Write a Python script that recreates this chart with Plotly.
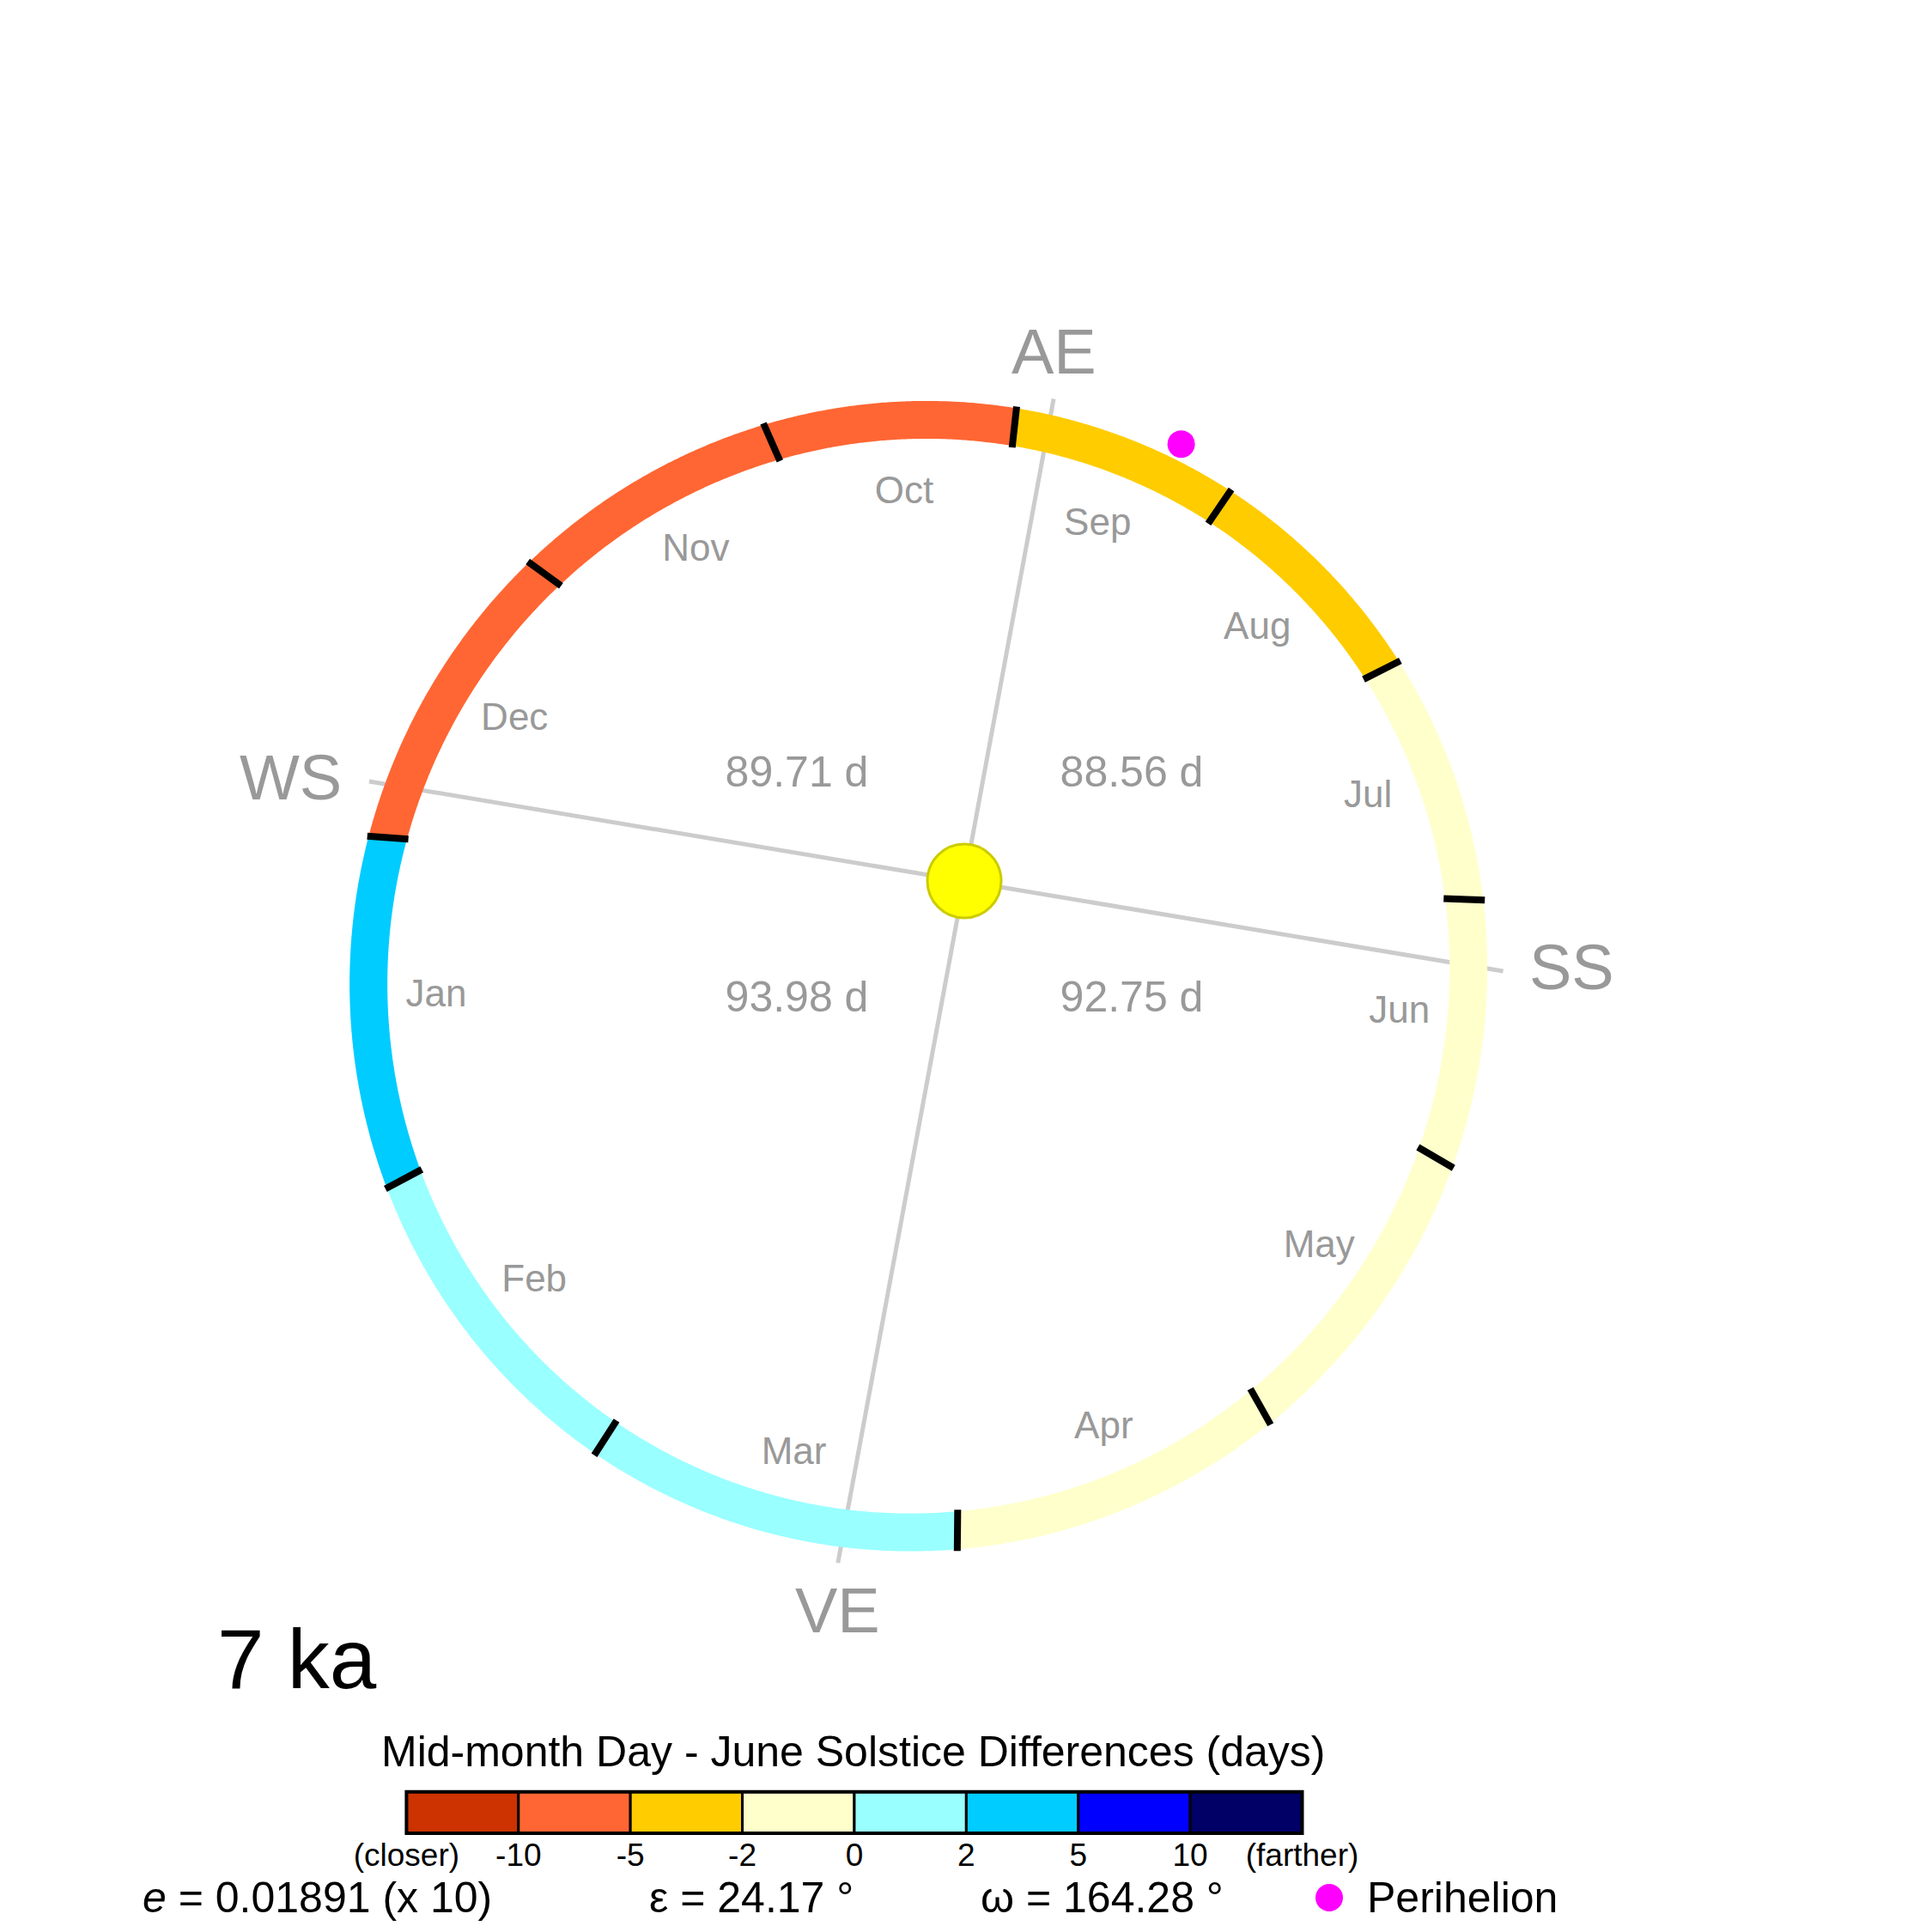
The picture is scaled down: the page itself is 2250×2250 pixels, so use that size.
import numpy as np
import plotly.graph_objects as go

# ---------------- data ----------------
AGE_LABEL = "7 ka"
ECC = 0.01891           # eccentricity
ECC_SCALE = 10          # exaggeration used for drawing the orbit
OBLIQUITY = 24.17       # degrees
OMEGA = 164.28          # longitude of perihelion (deg, from VE)

MONTHS = ["Jan", "Feb", "Mar", "Apr", "May", "Jun",
          "Jul", "Aug", "Sep", "Oct", "Nov", "Dec"]
# drawn longitude (deg from VE) of the first day of each month
MONTH_START_LON = [275.7, 308.0, 337.2, 9.4, 39.4, 69.6,
                   97.9, 126.8, 155.7, 183.7, 213.7, 243.8]
# mid-month day minus June-solstice-calendar differences (days, estimated from colours)
MONTH_DIFF_DAYS = [3.6, 1.7, 0.6, -0.4, -0.6, -0.2,
                   -1.2, -2.6, -4.3, -5.9, -7.2, -7.8]

SEASON_LABELS = ["VE", "SS", "AE", "WS"]
# drawn longitude of the equinox / solstice points
SEASON_LON = [-0.5, 90.5, 179.5, 270.5]
# length (days) of the season starting at each cardinal point
SEASON_DAYS = [92.75, 88.56, 89.71, 93.98]
# drawn longitude of the perihelion marker
PERI_MARK_LON = 163.6

BIN_EDGES = [-10, -5, -2, 0, 2, 5, 10]
BIN_COLORS = ["#CC3300", "#FF6633", "#FFCC00", "#FFFFCC",
              "#99FFFF", "#00CCFF", "#0000FF", "#000066"]
CB_TICKTEXT = ["(closer)", "-10", "-5", "-2", "0", "2", "5", "10", "(farther)"]
CB_TITLE = "Mid-month Day - June Solstice Differences (days)"

# ---------------- layout / style constants ----------------
W = H = 2250
PX = 650.0                 # pixels per orbit semi-major axis
SUN_PX = (1123, 1026)      # sun position on the page (px from top-left)
ROT = -100.0               # screen direction (deg) of longitude 0 seen from the sun
GRAY = "#999999"
LINE_GRAY = "#CCCCCC"
FONT = "Liberation Sans, Arial, sans-serif"
RING_W = 44
TEXT_DY = -6 / PX          # small vertical correction for text traces
e_draw = ECC * ECC_SCALE


def radius(lon):
    nu = np.radians(np.asarray(lon, dtype=float) - OMEGA)
    return (1 - e_draw ** 2) / (1 + e_draw * np.cos(nu))


def polar(lon, r):
    ang = np.radians(ROT + np.asarray(lon, dtype=float))
    return r * np.cos(ang), r * np.sin(ang)


fig = go.Figure()

# --- equinox / solstice lines (under everything) ---
END_OFF = 41 / PX
ends = {}
for lab, lon in zip(SEASON_LABELS, SEASON_LON):
    ends[lab] = polar(lon, radius(lon) + END_OFF)
for a, b in [("VE", "AE"), ("WS", "SS")]:
    fig.add_trace(go.Scatter(
        x=[ends[a][0], 0, ends[b][0]], y=[ends[a][1], 0, ends[b][1]],
        mode="lines", line=dict(color=LINE_GRAY, width=5),
        hoverinfo="skip", showlegend=False))

# --- coloured month ring ---
bins = np.digitize(MONTH_DIFF_DAYS, BIN_EDGES)
for i, m in enumerate(MONTHS):
    s = MONTH_START_LON[i]
    e = MONTH_START_LON[(i + 1) % 12]
    if e <= s:
        e += 360
    lon = np.linspace(s, e, 120)
    x, y = polar(lon, radius(lon))
    fig.add_trace(go.Scatter(
        x=x, y=y, mode="lines",
        line=dict(color=BIN_COLORS[bins[i]], width=RING_W, simplify=False),
        hoverinfo="skip", showlegend=False))

# --- month boundary ticks ---
TICK_HALF = 24 / PX
tx, ty = [], []
for s in MONTH_START_LON:
    r = radius(s)
    x0, y0 = polar(s, r - TICK_HALF)
    x1, y1 = polar(s, r + TICK_HALF)
    tx += [x0, x1, None]
    ty += [y0, y1, None]
fig.add_trace(go.Scatter(x=tx, y=ty, mode="lines",
                         line=dict(color="black", width=8),
                         hoverinfo="skip", showlegend=False))

# --- month labels ---
mid = []
for i in range(12):
    s = MONTH_START_LON[i]
    e = MONTH_START_LON[(i + 1) % 12]
    if e <= s:
        e += 360
    mid.append((s + e) / 2)
mid = np.array(mid)
mx, my = polar(mid, radius(mid) - 80 / PX)
fig.add_trace(go.Scatter(x=mx, y=my + TEXT_DY, mode="text", text=MONTHS,
                         textposition="middle center",
                         textfont=dict(size=44, color=GRAY, family=FONT),
                         hoverinfo="skip", showlegend=False))

# --- season length labels ---
sx, sy, st = [], [], []
for lon, d in zip(SEASON_LON, SEASON_DAYS):
    ang = np.radians(ROT + lon + 45)
    sx.append(0.30 * np.sign(np.cos(ang)))
    sy.append((0.197 if np.sin(ang) > 0 else -0.205) + TEXT_DY)
    st.append(f"{d:.2f} d")
fig.add_trace(go.Scatter(x=sx, y=sy, mode="text", text=st,
                         textposition="middle center",
                         textfont=dict(size=50, color=GRAY, family=FONT),
                         hoverinfo="skip", showlegend=False))

# --- sun ---
fig.add_trace(go.Scatter(x=[0], y=[0], mode="markers",
                         marker=dict(size=86, color="#FFFF00",
                                     line=dict(color="#CCCC00", width=3)),
                         hoverinfo="skip", showlegend=False))

# --- perihelion marker ---
px_, py_ = polar(PERI_MARK_LON, radius(PERI_MARK_LON) + 41 / PX)
fig.add_trace(go.Scatter(x=[px_], y=[py_], mode="markers",
                         marker=dict(size=32, color="#FF00FF"),
                         hoverinfo="skip", showlegend=False))

# --- season point labels ---
annotations = []
for lab, lon in zip(SEASON_LABELS, SEASON_LON):
    ang = np.radians(ROT + lon)
    c, s_ = np.cos(ang), np.sin(ang)
    ex, ey = ends[lab]
    if abs(c) > abs(s_):
        xa = "left" if c > 0 else "right"
        xs = 28 if c > 0 else -30
        ya, ys = "middle", 5
    else:
        xa, xs = "center", 0
        ya = "bottom" if s_ > 0 else "top"
        ys = 12 if s_ > 0 else -12
    annotations.append(dict(x=ex, y=ey, xref="x", yref="y", text=lab,
                            showarrow=False, xanchor=xa, yanchor=ya,
                            xshift=xs, yshift=ys,
                            font=dict(size=74, color=GRAY, family=FONT)))

# --- colour bar (bars on a second axis pair) ---
fig.add_trace(go.Bar(x=np.arange(len(BIN_COLORS)), y=[1] * len(BIN_COLORS),
                     width=1, marker=dict(color=BIN_COLORS,
                                          line=dict(color="black", width=3)),
                     xaxis="x2", yaxis="y2", hoverinfo="skip",
                     showlegend=False))

BOTTOM_Y = 1 - 2210 / H
annotations += [
    dict(x=251 / W, y=1 - 1932 / H, xref="paper", yref="paper",
         text=AGE_LABEL, showarrow=False, xanchor="left", yanchor="middle",
         font=dict(size=98, color="black", family=FONT)),
    dict(x=993.5 / W, y=1 - 2040 / H, xref="paper", yref="paper",
         text=CB_TITLE, showarrow=False, xanchor="center", yanchor="middle",
         font=dict(size=50, color="black", family=FONT)),
    dict(x=164 / W, y=BOTTOM_Y, xref="paper", yref="paper",
         text=f"<i>e</i> = {ECC:.5f} (x {ECC_SCALE})", showarrow=False,
         xanchor="left", yanchor="middle",
         font=dict(size=50, color="black", family=FONT)),
    dict(x=754 / W, y=BOTTOM_Y, xref="paper", yref="paper",
         text=f"ε = {OBLIQUITY:.2f} °", showarrow=False,
         xanchor="left", yanchor="middle",
         font=dict(size=50, color="black", family=FONT)),
    dict(x=1140 / W, y=BOTTOM_Y, xref="paper", yref="paper",
         text=f"ω = {OMEGA:.2f} °", showarrow=False,
         xanchor="left", yanchor="middle",
         font=dict(size=50, color="black", family=FONT)),
    dict(x=1590 / W, y=BOTTOM_Y, xref="paper", yref="paper",
         text="Perihelion", showarrow=False,
         xanchor="left", yanchor="middle",
         font=dict(size=50, color="black", family=FONT)),
]

shapes = [
    dict(type="rect", xref="x2 domain", yref="y2 domain",
         x0=0, x1=1, y0=0, y1=1, line=dict(color="black", width=4)),
    dict(type="circle", xref="paper", yref="paper",
         x0=(1548 - 16) / W, x1=(1548 + 16) / W,
         y0=1 - (2210 + 16) / H, y1=1 - (2210 - 16) / H,
         fillcolor="#FF00FF", line=dict(width=0)),
]

fig.update_layout(
    width=W, height=H, autosize=False,
    margin=dict(l=0, r=0, t=0, b=0, pad=0, autoexpand=False),
    paper_bgcolor="white", plot_bgcolor="white",
    xaxis=dict(domain=[0, 1], range=[-SUN_PX[0] / PX, (W - SUN_PX[0]) / PX],
               visible=False, automargin=False),
    yaxis=dict(domain=[0, 1], range=[-(H - SUN_PX[1]) / PX, SUN_PX[1] / PX],
               visible=False, automargin=False),
    xaxis2=dict(domain=[473.4 / W, 1516.5 / W], range=[-0.5, 7.5],
                anchor="y2", tickvals=np.arange(9) - 0.5, ticktext=CB_TICKTEXT,
                showgrid=False, zeroline=False, showline=False, ticks="",
                tickfont=dict(size=37, color="black", family=FONT),
                ticklabelstandoff=0, automargin=False),
    yaxis2=dict(domain=[1 - 2135 / H, 1 - 2086.7 / H], range=[0, 1],
                anchor="x2", visible=False, automargin=False),
    annotations=annotations,
    shapes=shapes,
    showlegend=False,
)

fig.write_html("out.html")
